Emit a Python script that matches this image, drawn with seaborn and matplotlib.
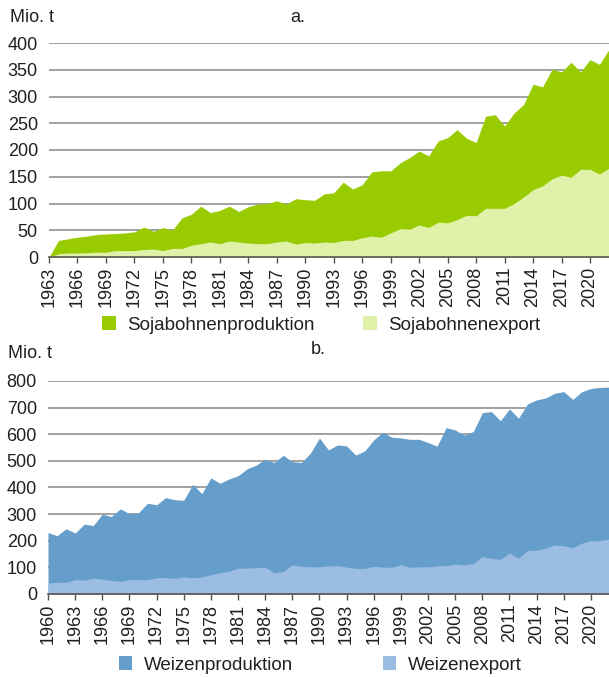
import numpy as np
import pandas as pd
import matplotlib
matplotlib.use("Agg")
import matplotlib.pyplot as plt
import seaborn as sns
from matplotlib.patches import Patch

# ---- Data (Mio. t) ----
soy_years = list(range(1963, 2023))
soy_production = [0, 31, 34, 37, 39, 42, 43, 44, 45, 47,
                  56, 48, 55, 50, 73, 80, 95, 83, 87, 95,
                  85, 94, 99, 100, 105, 99, 109, 107, 106, 118,
                  120, 140, 127, 135, 159, 161, 161, 176, 186, 198,
                  189, 217, 223, 238, 222, 214, 263, 266, 245, 269,
                  285, 323, 318, 351, 346, 364, 346, 369, 360, 388]
soy_export = [0, 6, 7.5, 7.5, 8, 9, 9, 12, 12, 12,
              14, 15, 12, 16, 16, 22, 25, 28, 25, 30,
              28, 26, 25, 25, 28, 30, 24, 27, 26, 28,
              27, 31, 31, 36, 39, 37, 45, 53, 52, 60,
              55, 65, 64, 70, 78, 77, 91, 91, 91, 100,
              112, 126, 133, 146, 153, 149, 164, 164, 155, 166]

wheat_years = list(range(1960, 2023))
wheat_production = [231, 219, 245, 229, 262, 257, 300, 291, 320, 301,
                    305, 341, 335, 362, 354, 352, 412, 377, 436, 416,
                    432, 444, 470, 484, 506, 494, 521, 497, 494, 529,
                    586, 541, 560, 556, 522, 537, 579, 607, 589, 586,
                    581, 581, 569, 555, 625, 616, 597, 610, 681, 685,
                    651, 695, 660, 714, 729, 736, 754, 760, 731, 760,
                    772, 776, 777]
wheat_export = [41, 44, 44, 54, 52, 59, 56, 51, 48, 54,
                54, 54, 61, 62, 59, 64, 61, 64, 72, 80,
                86, 97, 97, 99, 101, 79, 85, 109, 104, 102,
                102, 106, 106, 101, 96, 96, 104, 101, 100, 110,
                100, 102, 102, 105, 107, 112, 109, 114, 141, 134,
                130, 154, 134, 164, 164, 172, 184, 181, 174, 191,
                200, 200, 207]

soy_labels = ["Sojabohnenproduktion", "Sojabohnenexport"]
wheat_labels = ["Weizenproduktion", "Weizenexport"]

soy_df = pd.DataFrame({"Jahr": soy_years, soy_labels[0]: soy_production, soy_labels[1]: soy_export})
wheat_df = pd.DataFrame({"Jahr": wheat_years, wheat_labels[0]: wheat_production, wheat_labels[1]: wheat_export})

# ---- Style ----
sns.set_theme(style="white")
plt.rcParams["font.family"] = ["Liberation Sans", "DejaVu Sans"]
FS = 13
LFS = 13.5
TXT = "#231f20"

fig = plt.figure(figsize=(6.09, 6.77), dpi=100)
W, H = 609, 677


def ax_rect(left, top, right, bottom):
    return [left / W, 1 - bottom / H, (right - left) / W, (bottom - top) / H]


def draw(ax, df, labels, colors, ymax, ystep, x0):
    for lab, col in zip(labels, colors):
        sns.lineplot(data=df, x="Jahr", y=lab, ax=ax, color=col, linewidth=0, legend=False)
        ax.fill_between(df["Jahr"], 0, df[lab], color=col, linewidth=0, zorder=2)
    ax.set_xlim(x0, 2022)
    ax.set_ylim(0, ymax)
    ax.set_yticks(np.arange(0, ymax + 1, ystep))
    ax.set_xticks(np.arange(x0, 2021, 3))
    ax.set_xticks(np.arange(x0, 2023, 1), minor=True)
    ax.set_xlabel("")
    ax.set_ylabel("")
    ax.yaxis.grid(True, color="#9a9a9a", linewidth=1.3, zorder=0)
    ax.set_axisbelow(True)
    for s in ["left", "right", "top"]:
        ax.spines[s].set_visible(False)
    ax.spines["bottom"].set_color("#555555")
    ax.spines["bottom"].set_linewidth(1.2)
    ax.spines["bottom"].set_zorder(5)
    ax.tick_params(axis="y", length=0, pad=8, labelsize=FS, labelcolor=TXT)
    ax.tick_params(axis="x", which="both", direction="out", length=4, width=1,
                   color="#555555", labelsize=FS, labelcolor=TXT, rotation=90, pad=3)
    ax.tick_params(axis="x", which="minor", labelbottom=False)
    ax.tick_params(axis="x", which="major", bottom=True)


# Top chart (a.)
ax1 = fig.add_axes(ax_rect(49, 43, 609, 257))
soy_colors = ["#99cc00", "#e0f1a9"]
draw(ax1, soy_df, soy_labels, soy_colors, 400, 50, 1963)
fig.text(10 / W, 1 - 17 / H, "Mio. t", fontsize=FS, color=TXT, va="center", ha="left")
fig.text(298 / W, 1 - 17 / H, "a.", fontsize=FS, color=TXT, va="center", ha="center")
handles1 = [Patch(facecolor=c, edgecolor="none") for c in soy_colors]
fig.legend(handles1, soy_labels, loc="center", bbox_to_anchor=(321 / W, 1 - 325 / H),
           ncol=2, frameon=False, fontsize=LFS, handlelength=0.72, handleheight=0.72,
           handletextpad=0.6, columnspacing=2.6, labelcolor=TXT)

# Bottom chart (b.)
ax2 = fig.add_axes(ax_rect(48, 381, 609, 594))
wheat_colors = ["#659ecb", "#9bbde2"]
draw(ax2, wheat_df, wheat_labels, wheat_colors, 800, 100, 1960)
fig.text(8 / W, 1 - 353 / H, "Mio. t", fontsize=FS, color=TXT, va="center", ha="left")
fig.text(318 / W, 1 - 350 / H, "b.", fontsize=FS, color=TXT, va="center", ha="center")
handles2 = [Patch(facecolor=c, edgecolor="none") for c in wheat_colors]
fig.legend(handles2, wheat_labels, loc="center", bbox_to_anchor=(320 / W, 1 - 665 / H),
           ncol=2, frameon=False, fontsize=LFS, handlelength=0.72, handleheight=0.72,
           handletextpad=0.6, columnspacing=4.8, labelcolor=TXT)

fig.savefig("out.png", dpi=100)
